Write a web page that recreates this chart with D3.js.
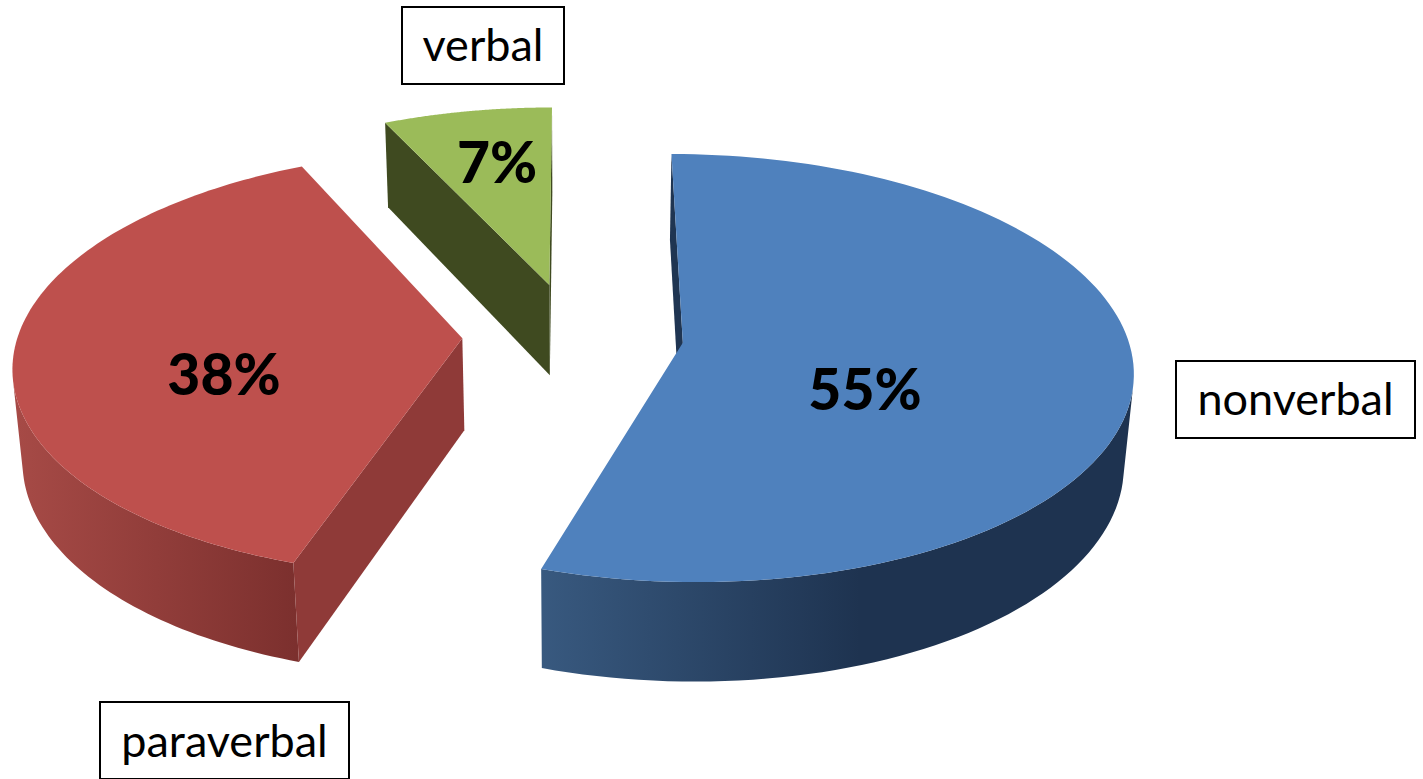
<!DOCTYPE html>
<html>
<head>
	<title>Communication</title>
	<script src="https://cdn.jsdelivr.net/npm/d3@7"></script>
	<style>
		html, body { margin: 0; padding: 0; background: #fff; overflow: hidden; }
		svg { display: block; font-family: Lato, "Open Sans", sans-serif; }
	</style>
</head>
<body>
	<script>
		// DATA
		var categories = ["nonverbal", "paraverbal", "verbal"];
		var shares = [55, 38, 7];

		// SET UP SVG
		var width = 1423,
			height = 779;
		var svg = d3.select("body").append("svg")
					.attr("width", width)
					.attr("height", height);

		// slice styling, same order as categories
		var topColors = ["#4f81bd", "#be504d", "#9bbb59"];
		var cutColors = ["#1f3552", "#8f3a38", "#3f4a20"];
		var wallStops = [["#38597f", "#1e3350"], ["#a64a46", "#7c302e"], ["#3f4a20", "#3f4a20"]];
		var wallRange = [[542, 860], [18, 296], [385, 549]];
		var explode = [109, 113, 112];
		var nudgeX = [0, 0, -2];

		// label boxes: left, top, right, bottom
		var boxes = [[1176, 361, 1415, 438], [100, 702, 349, 779], [402, 7, 564, 84]];
		var nameBase = [415, 757, 61];
		var pctPos = [[865, 410], [224, 395], [497, 183]];

		// perspective of the pie plane, fitted to the picture
		var radius = 445.5, dist = 3790, xView = 575, yHorizon = -1450, k = 1790;
		var yCentre = -11, zPersp = 0.018, zDrop = 126;

		// plane (X right, Y towards viewer), z 0 = top face, 1 = bottom face
		function project(X, Y, z) {
			var w = 1 - (Y + yCentre) / dist + zPersp * z;
			return [xView + X / w, yHorizon + (k + zDrop * z) / w];
		}

		function area(a, b, c, d) {
			var pts = [a, b, c, d], s = 0;
			for (var i = 0; i < 4; i++) {
				var p = pts[i], q = pts[(i + 1) % 4];
				s += p[0] * q[1] - q[0] * p[1];
			}
			return s;
		}

		var line = d3.line();
		var defs = svg.append("defs");
		var arcs = d3.pie().sort(null)(shares);

		arcs.forEach(function(d, i) {
			var mid = (d.startAngle + d.endAngle) / 2;
			var ox = explode[i] * Math.sin(mid) + nudgeX[i],
				oy = -explode[i] * Math.cos(mid);
			function at(theta, z) {
				return project(ox + radius * Math.sin(theta), oy - radius * Math.cos(theta), z);
			}
			var apexTop = project(ox, oy, 0),
				apexBot = project(ox, oy, 1);

			var steps = d3.range(0, 121).map(function(s) {
				return d.startAngle + (d.endAngle - d.startAngle) * s / 120;
			});
			var rimTop = steps.map(function(t) { return at(t, 0); });
			var rimBot = steps.map(function(t) { return at(t, 1); });

			var g = svg.append("g").attr("class", "slice");

			defs.append("linearGradient").attr("id", "wall" + i)
				.attr("gradientUnits", "userSpaceOnUse")
				.attr("x1", wallRange[i][0]).attr("x2", wallRange[i][1])
				.attr("y1", 0).attr("y2", 0)
				.selectAll("stop").data(wallStops[i]).enter().append("stop")
				.attr("offset", function(c, j) { return j; })
				.attr("stop-color", function(c) { return c; });

			// outer wall, only the part that faces us
			var upper = [], lower = [];
			for (var s = 0; s < 120; s++) {
				if (area(rimTop[s], rimTop[s + 1], rimBot[s + 1], rimBot[s]) < 0) {
					if (!upper.length) { upper.push(rimTop[s]); lower.push(rimBot[s]); }
					upper.push(rimTop[s + 1]);
					lower.push(rimBot[s + 1]);
				}
			}
			if (upper.length) {
				g.append("path")
					.attr("d", line(upper.concat(lower.reverse())) + "Z")
					.attr("fill", "url(#wall" + i + ")");
			}

			// the two cut faces
			var cuts = [
				[apexTop, rimTop[0], rimBot[0], apexBot],
				[rimTop[120], apexTop, apexBot, rimBot[120]]
			];
			cuts.forEach(function(c) {
				if (area(c[0], c[1], c[2], c[3]) < 0) {
					g.append("path").attr("d", line(c) + "Z").attr("fill", cutColors[i]);
				}
			});

			// top face
			g.append("path")
				.attr("d", line([apexTop].concat(rimTop)) + "Z")
				.attr("fill", topColors[i]);
		});

		// percentage labels
		svg.selectAll("text.pct").data(shares).enter().append("text")
			.attr("class", "pct")
			.attr("x", function(d, i) { return pctPos[i][0]; })
			.attr("y", function(d, i) { return pctPos[i][1]; })
			.attr("text-anchor", "middle")
			.attr("font-weight", 900)
			.attr("font-size", 57)
			.text(function(d) { return d + "%"; });

		// category boxes
		svg.selectAll("rect.box").data(categories).enter().append("rect")
			.attr("class", "box")
			.attr("x", function(d, i) { return boxes[i][0]; })
			.attr("y", function(d, i) { return boxes[i][1]; })
			.attr("width", function(d, i) { return boxes[i][2] - boxes[i][0]; })
			.attr("height", function(d, i) { return boxes[i][3] - boxes[i][1]; })
			.attr("fill", "#fff")
			.attr("stroke", "#000")
			.attr("stroke-width", 2);

		svg.selectAll("text.name").data(categories).enter().append("text")
			.attr("class", "name")
			.attr("x", function(d, i) { return (boxes[i][0] + boxes[i][2]) / 2; })
			.attr("y", function(d, i) { return nameBase[i]; })
			.attr("text-anchor", "middle")
			.attr("font-size", 45)
			.text(function(d) { return d; });
	</script>
</body>
</html>
